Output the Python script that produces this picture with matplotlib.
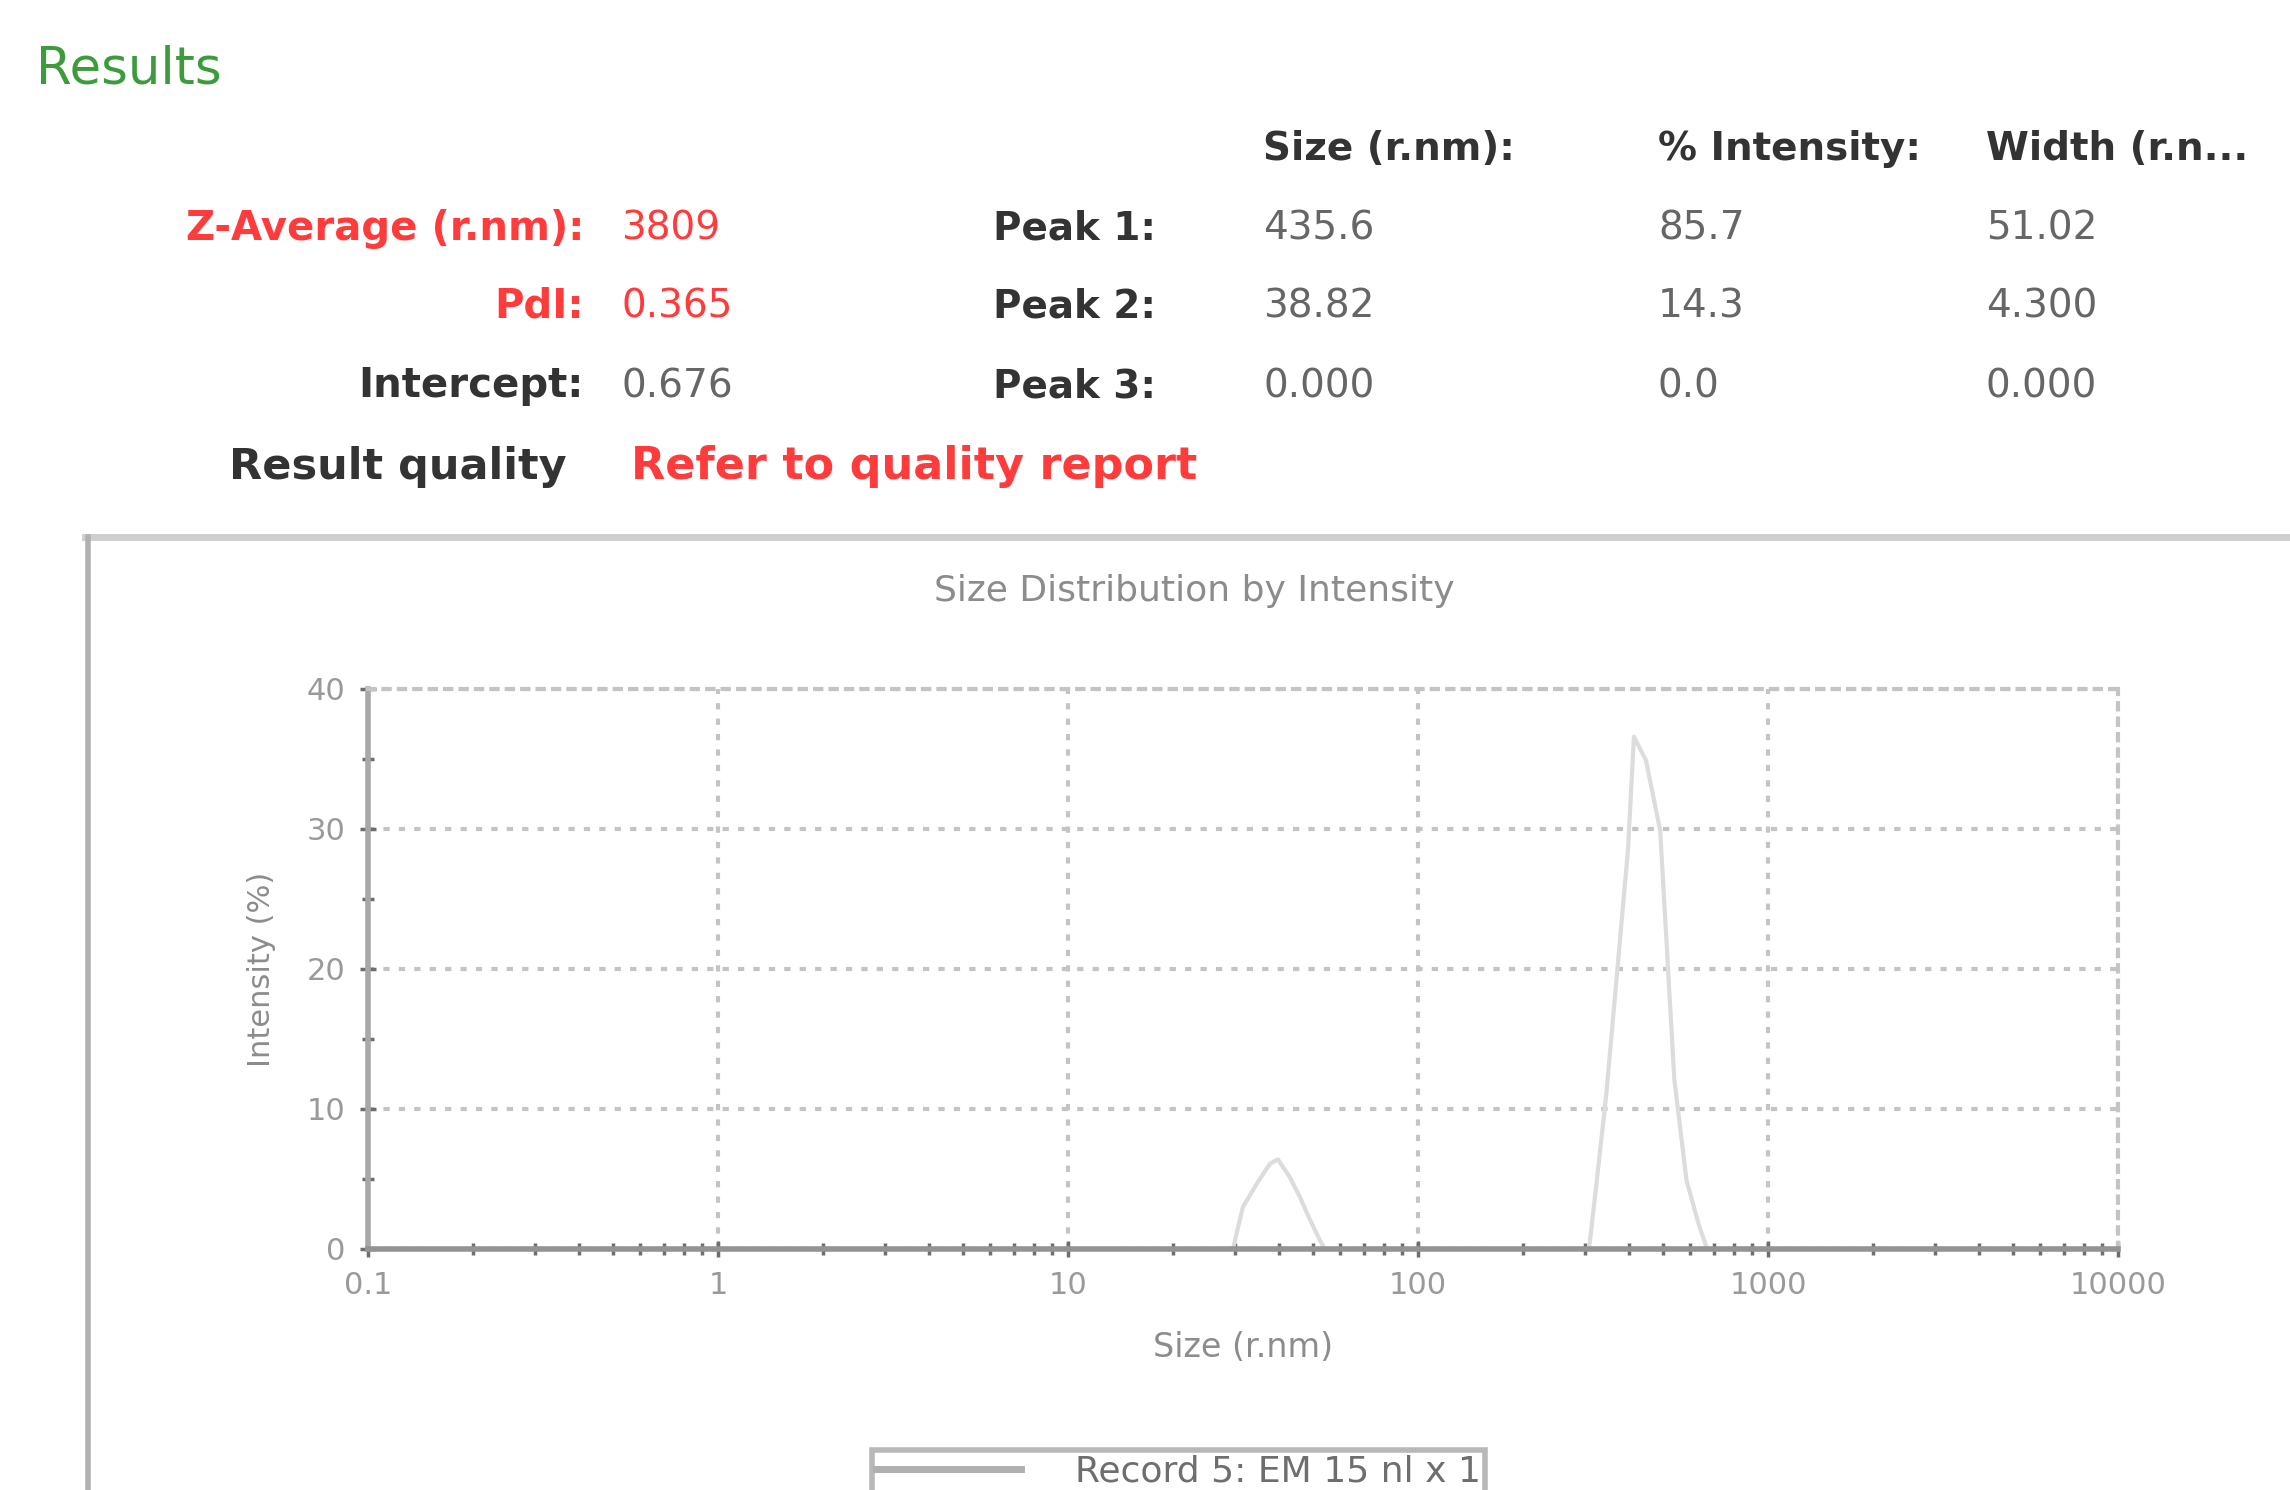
import numpy as np
import matplotlib.pyplot as plt
from matplotlib.lines import Line2D
from matplotlib.ticker import FixedLocator, LogLocator, NullFormatter

# summary table
header_cols = ["Size (r.nm):", "% Intensity:", "Width (r.n..."]
peak_names = ["Peak 1:", "Peak 2:", "Peak 3:"]
peak_size = ["435.6", "38.82", "0.000"]
peak_intensity = ["85.7", "14.3", "0.0"]
peak_width = ["51.02", "4.300", "0.000"]
summary_labels = ["Z-Average (r.nm):", "PdI:", "Intercept:"]
summary_values = ["3809", "0.365", "0.676"]
summary_colors = ["#ff3b3b", "#ff3b3b", "#333333"]

# size distribution curve
size_nm = [0.1, 29.6, 31.6, 34.7, 37.8, 39.8, 43.1, 46.0, 49.1, 52.5, 54.2,
           308, 321, 345, 371, 398, 414, 448, 492, 540, 585, 635, 670, 10000]
intensity = [0, 0, 3.0, 4.7, 6.1, 6.4, 5.1, 3.7, 2.1, 0.6, 0,
             0, 3.9, 11.0, 19.9, 28.5, 36.6, 34.9, 29.9, 12.1, 4.9, 1.7, 0, 0]
record_label = "Record 5: EM 15 nl x 1"

W, H = 2290, 1490
fig = plt.figure(figsize=(22.9, 14.9), dpi=100)

def px(x, y):
    return x / W, 1 - y / H

# header text
fig.text(*px(36, 69), "Results", color="#3c9c3c", fontsize=37, va="center")

col_x = [1263, 1658, 1986]
for cx, h in zip(col_x, header_cols):
    fig.text(*px(cx, 149), h, fontsize=28, weight="bold", color="#333333", va="center")

row_y = [229, 307, 386]
for i, ry in enumerate(row_y):
    fig.text(*px(584, ry), summary_labels[i], fontsize=29, weight="bold",
             color=summary_colors[i], ha="right", va="center")
    fig.text(*px(621, ry), summary_values[i], fontsize=28,
             color=summary_colors[i] if i < 2 else "#666666", va="center")
    fig.text(*px(993, ry), peak_names[i], fontsize=28, weight="bold", color="#333333", va="center")
    for cx, val in zip(col_x, [peak_size[i], peak_intensity[i], peak_width[i]]):
        fig.text(*px(cx, ry), val, fontsize=28, color="#666666", va="center")

fig.text(*px(567, 467), "Result quality", fontsize=31, weight="bold",
         color="#333333", ha="right", va="center")
fig.text(*px(631, 467), "Refer to quality report", fontsize=32, weight="bold",
         color="#ff3b3b", va="center")

# panel frame
fig.add_artist(Line2D([85 / W, 1], [1 - 537 / H] * 2, color="#cfcfcf", lw=5))
fig.add_artist(Line2D([88 / W] * 2, [0, 1 - 537 / H], color="#b0b0b0", lw=4))

# chart
ax = fig.add_axes([368 / W, 1 - 1249 / H, (2118 - 368) / W, (1249 - 689) / H])
ax.plot(size_nm, intensity, color="#dcdcdc", lw=3, zorder=2)
ax.set_xscale("log")
ax.set_xlim(0.1, 10000)
ax.set_ylim(0, 40)

ax.xaxis.set_major_locator(FixedLocator([0.1, 1, 10, 100, 1000, 10000]))
ax.set_xticklabels(["0.1", "1", "10", "100", "1000", "10000"])
ax.xaxis.set_minor_locator(LogLocator(base=10, subs=np.arange(2, 10), numticks=20))
ax.xaxis.set_minor_formatter(NullFormatter())
ax.set_yticks([0, 10, 20, 30, 40])
ax.set_yticks([5, 15, 25, 35], minor=True)

ax.tick_params(which="both", direction="inout", color="#6e6e6e", width=2.5,
               labelcolor="#9a9a9a", labelsize=22)
ax.tick_params(which="major", length=12, pad=10)
ax.tick_params(which="minor", length=9)

ax.grid(True, which="major", color="#c4c4c4", lw=3, linestyle=(0, (1.5, 2.2)))
for s in ["top", "right"]:
    ax.spines[s].set_color("#c4c4c4")
    ax.spines[s].set_linewidth(3)
    ax.spines[s].set_linestyle((0, (1.5, 2.2)))
ax.spines["left"].set_color("#a8a8a8")
ax.spines["left"].set_linewidth(4)
ax.spines["bottom"].set_color("#939393")
ax.spines["bottom"].set_linewidth(4)

fig.text(*px(1194, 591), "Size Distribution by Intensity", fontsize=26,
         color="#8c8c8c", ha="center", va="center")
ax.set_xlabel("Size (r.nm)", fontsize=24, color="#8c8c8c", labelpad=22)
ax.set_ylabel("Intensity (%)", fontsize=22, color="#8c8c8c", labelpad=22)

handle = Line2D([], [], color="#b0b0b0", lw=5)
leg = fig.legend([handle], [record_label], loc="upper left",
                 bbox_to_anchor=px(872, 1450), fontsize=26, frameon=True,
                 fancybox=False, edgecolor="#a6a6a6", handlelength=4.0,
                 borderpad=0.12, handletextpad=1.5, borderaxespad=0)
leg.get_frame().set_linewidth(4)
for t in leg.get_texts():
    t.set_color("#6e6e6e")

fig.savefig("out.png", dpi=100)
